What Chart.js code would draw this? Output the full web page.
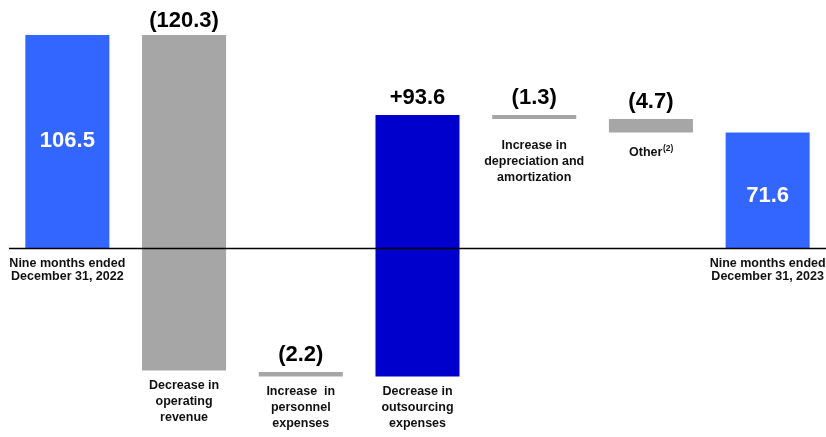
<!DOCTYPE html>
<html>
<head>
<meta charset="utf-8">
<script src="https://cdn.jsdelivr.net/npm/chart.js@4.4.0/dist/chart.umd.min.js"></script>
<style>
  html, body { margin: 0; padding: 0; background: #fff; }
  #wrap { width: 826px; height: 437px; }
</style>
</head>
<body>
<div id="wrap"><canvas id="grafico" width="826" height="437"></canvas></div>
<script>
// Categorías (una línea por elemento)
const categorias = [
  ["Nine months ended", "December 31, 2022"],
  ["Decrease in", "operating", "revenue"],
  ["Increase  in", "personnel", "expenses"],
  ["Decrease in", "outsourcing", "expenses"],
  ["Increase in", "depreciation and", "amortization"],
  ["Other^(2)"],
  ["Nine months ended", "December 31, 2023"]
];

// Importes informados
const importes = [106.5, -120.3, -2.2, 93.6, -1.3, -4.7, 71.6];
const esTotal = [true, false, false, false, false, false, true];

// Extensión de cada barra tal como aparece en el gráfico (no está a escala)
const barraDesde = [0, 106.5, -62, -64.3, 66.5, 64.5, 57.7];
const barraHasta = [106.5, -61.3, -64.3, 66.5, 64.5, 57.7, 0];

const colores = ['#3366ff', '#a6a6a6', '#a6a6a6', '#0000cc', '#a6a6a6', '#a6a6a6', '#3366ff'];
// ajustes finos de posición de los textos
const separacionValor = [-1, 14.5, 17, 17, 17, 17, 6];
const extraEtiqueta = [0, 0, 0, 0, 12, 5, 0];

function formato(v, total) {
  if (total) return v.toFixed(1);
  if (v < 0) return '(' + Math.abs(v).toFixed(1) + ')';
  return '+' + v.toFixed(1);
}

const FUENTE = '"Liberation Sans", Arial, sans-serif';

const etiquetas = {
  id: 'etiquetas',
  afterDatasetsDraw(chart) {
    const { ctx, scales: { y }, chartArea } = chart;
    const meta = chart.getDatasetMeta(0);

    // línea del cero
    const y0 = Math.round(y.getPixelForValue(0)) + 0.5;
    ctx.save();
    ctx.strokeStyle = '#000';
    ctx.lineWidth = 1.3;
    ctx.beginPath();
    ctx.moveTo(chartArea.left, y0);
    ctx.lineTo(chartArea.right, y0);
    ctx.stroke();

    meta.data.forEach((bar, i) => {
      const x = bar.x;
      const top = y.getPixelForValue(Math.max(barraDesde[i], barraHasta[i]));
      const bottom = y.getPixelForValue(Math.min(barraDesde[i], barraHasta[i]));
      const texto = formato(importes[i], esTotal[i]);

      ctx.font = 'bold 22px ' + FUENTE;
      ctx.textAlign = 'center';
      ctx.textBaseline = 'middle';
      if (esTotal[i]) {
        ctx.fillStyle = '#fff';
        ctx.fillText(texto, x, (top + bottom) / 2 + separacionValor[i]);
      } else {
        ctx.fillStyle = '#000';
        ctx.fillText(texto, x, top - separacionValor[i]);
      }

      // etiqueta de categoría
      const base = esTotal[i] ? y0 : bottom;
      let ly = base + 15 + extraEtiqueta[i];
      ctx.fillStyle = '#111';
      categorias[i].forEach(linea => {
        if (linea.includes('^')) {
          const [txt, sup] = linea.split('^');
          ctx.font = 'bold 12.5px ' + FUENTE;
          const w1 = ctx.measureText(txt).width;
          ctx.font = 'bold 8.5px ' + FUENTE;
          const w2 = ctx.measureText(sup).width;
          const x0 = x - (w1 + w2) / 2;
          ctx.textAlign = 'left';
          ctx.font = 'bold 12.5px ' + FUENTE;
          ctx.fillText(txt, x0, ly);
          ctx.font = 'bold 8.5px ' + FUENTE;
          ctx.fillText(sup, x0 + w1 + 0.5, ly - 4);
          ctx.textAlign = 'center';
        } else {
          ctx.font = 'bold 12.5px ' + FUENTE;
          ctx.fillText(linea, x, ly);
        }
        ly += esTotal[i] ? 13.5 : 16;
      });
    });
    ctx.restore();
  }
};

new Chart(document.getElementById('grafico'), {
  type: 'bar',
  data: {
    labels: categorias.map(c => c.join(' ')),
    datasets: [{
      data: barraDesde.map((d, i) => [d, barraHasta[i]]),
      backgroundColor: colores,
      borderWidth: 0,
      barPercentage: 0.72,
      categoryPercentage: 1
    }]
  },
  options: {
    responsive: false,
    animation: false,
    layout: { padding: { left: 9, right: 0, top: 0, bottom: 0 } },
    plugins: {
      legend: { display: false },
      tooltip: { enabled: false }
    },
    scales: {
      x: { display: false },
      y: { display: false, min: -94.5, max: 124 }
    }
  },
  plugins: [etiquetas]
});
</script>
</body>
</html>
